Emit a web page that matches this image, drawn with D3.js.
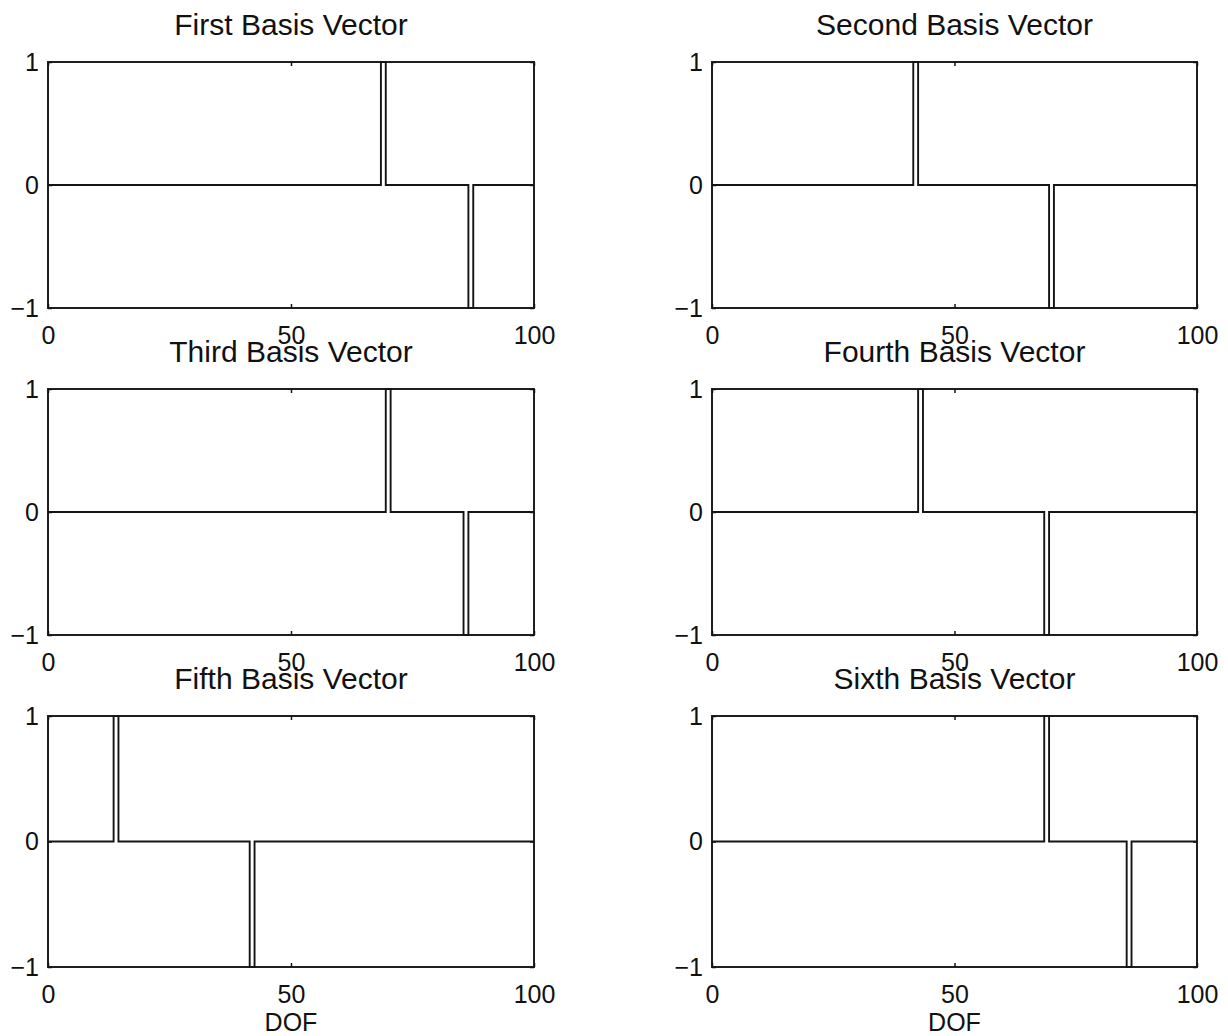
<!DOCTYPE html>
<html>
<head>
<meta charset="utf-8">
<script src="https://cdnjs.cloudflare.com/ajax/libs/d3/7.8.5/d3.min.js"></script>
<style>
    body { margin: 0; background: #fff; }
    svg text { font-family: "Liberation Sans", Arial, Helvetica, sans-serif; fill: #111; }
</style>
</head>
<body>
<div id="chart"></div>
<script>
// Panel titles and the DOF where each basis vector is +1 and -1
const titles = [
    "First Basis Vector", "Second Basis Vector",
    "Third Basis Vector", "Fourth Basis Vector",
    "Fifth Basis Vector", "Sixth Basis Vector"
];
const plusDof = [69, 42, 70, 43, 14, 69];
const minusDof = [87, 70, 86, 69, 42, 86];
const xTicks = [0, 50, 100];
const yTicks = [-1, 0, 1];
const xLabel = "DOF";

const width = 1228, height = 1036;

// Plot boxes (pixel layout of the 3x2 grid)
const cols = [{ x0: 48, x1: 534 }, { x0: 712, x1: 1197 }];
const rows = [{ y0: 62, y1: 308 }, { y0: 389, y1: 635 }, { y0: 716, y1: 967 }];

const svg = d3.select("#chart").append("svg")
    .attr("width", width)
    .attr("height", height);

const ink = "#141414";
const fmt = d => d < 0 ? "\u2212" + Math.abs(d) : String(d);

titles.forEach((title, i) => {
    const c = cols[i % 2], r = rows[Math.floor(i / 2)];
    const x = d3.scaleLinear().domain([0, 100]).range([c.x0, c.x1]);
    const y = d3.scaleLinear().domain([-1, 1]).range([r.y1, r.y0]);

    const g = svg.append("g");

    // vector values over the DOF
    const values = d3.range(0, 101).map(k => ({
        dof: k,
        v: k === plusDof[i] ? 1 : (k === minusDof[i] ? -1 : 0)
    }));

    const line = d3.line()
        .x(d => x(d.dof))
        .y(d => y(d.v))
        .curve(d3.curveStep);

    g.append("path")
        .datum(values)
        .attr("d", line)
        .attr("fill", "none")
        .attr("stroke", ink)
        .attr("stroke-width", 1.9);

    // axes with inward ticks
    g.append("g")
        .attr("transform", `translate(0,${r.y1})`)
        .call(d3.axisBottom(x).tickValues(xTicks).tickSize(-4).tickPadding(18).tickFormat(fmt));
    g.append("g")
        .attr("transform", `translate(0,${r.y0})`)
        .call(d3.axisTop(x).tickValues(xTicks).tickSize(-4).tickFormat(""));
    g.append("g")
        .attr("transform", `translate(${c.x0},0)`)
        .call(d3.axisLeft(y).tickValues(yTicks).tickSize(-4).tickPadding(9).tickFormat(fmt));
    g.append("g")
        .attr("transform", `translate(${c.x1},0)`)
        .call(d3.axisRight(y).tickValues(yTicks).tickSize(-4).tickFormat(""));

    g.selectAll(".domain").remove();
    g.selectAll(".tick line").attr("stroke", ink).attr("stroke-width", 1.5);
    g.selectAll(".tick text")
        .style("font-size", "25px")
        .attr("fill", ink);

    // box
    g.append("rect")
        .attr("x", c.x0)
        .attr("y", r.y0)
        .attr("width", c.x1 - c.x0)
        .attr("height", r.y1 - r.y0)
        .attr("fill", "none")
        .attr("stroke", ink)
        .attr("stroke-width", 1.9);

    g.append("text")
        .attr("x", (c.x0 + c.x1) / 2)
        .attr("y", r.y0 - 27)
        .attr("text-anchor", "middle")
        .style("font-size", "30px")
        .text(title);

    if (Math.floor(i / 2) === rows.length - 1) {
        g.append("text")
            .attr("x", (c.x0 + c.x1) / 2)
            .attr("y", r.y1 + 64)
            .attr("text-anchor", "middle")
            .style("font-size", "25px")
            .text(xLabel);
    }
});
</script>
</body>
</html>
